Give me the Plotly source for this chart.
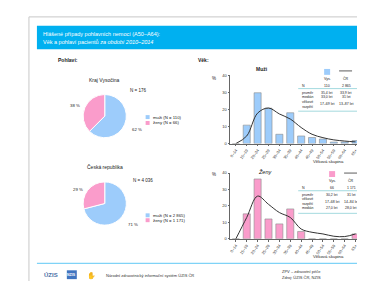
import plotly.graph_objects as go

W, H = 365, 281

# ---------------- data ----------------
age_groups = ["0–14", "15–19", "20–24", "25–29", "30–34", "35–39",
              "40–44", "45–49", "50–54", "55–59", "60–64", "65+"]
men_vys = [0, 10.9, 30.0, 20.9, 5.5, 18.2, 4.5, 3.6, 2.7, 0.9, 0.9, 1.8]
men_cr = [0, 4.5, 18.0, 21.0, 17.5, 14.5, 9.5, 5.5, 3.5, 2.2, 1.5, 1.0]
women_vys = [0, 15.2, 36.4, 12.1, 9.1, 18.2, 4.5, 0, 0, 0, 0, 3.0]
women_cr = [0, 13.0, 26.0, 21.0, 16.0, 13.0, 6.0, 4.0, 3.0, 1.6, 1.4, 3.0]

pie_labels = ["muži", "ženy"]
pie_vys = [110, 66]
pie_cr = [2865, 1171]

men_table = [("N", "110", "2 865"), ("průměr", "35,4 let", "33,9 let"),
             ("medián", "33,0 let", "31 let"), ("věkové<br>rozpětí", "17–69 let", "13–87 let")]
women_table = [("N", "66", "1 171"), ("průměr", "30,2 let", "31 let"),
               ("věkové<br>rozpětí", "17–68 let", "14–84 let"), ("medián", "27,0 let", "28,0 let")]

BLUE = "#9DCCFB"
PINK = "#FA9CCB"
HEAD = "#00B0F0"
LINE = "#333333"


def px(x):
    return x / W


def py(y):
    return 1 - y / H


fig = go.Figure()

# pies
for vals, cy in [(pie_vys, 107), (pie_cr, 196)]:
    fig.add_trace(go.Pie(
        labels=pie_labels, values=vals, sort=False, direction="clockwise",
        rotation=0, marker=dict(colors=[BLUE, PINK], line=dict(color="white", width=1)),
        textinfo="none", hoverinfo="label+value+percent", showlegend=False,
        domain=dict(x=[px(74), px(118)], y=[py(cy + 22), py(cy - 22)])))

# bars + lines
for i, (vys, cr, col) in enumerate([(men_vys, men_cr, BLUE), (women_vys, women_cr, PINK)]):
    xa = "x" if i == 0 else "x2"
    ya = "y" if i == 0 else "y2"
    fig.add_trace(go.Bar(x=age_groups, y=vys, marker=dict(color=col, line=dict(color="#8c8c8c", width=0.6)),
                         xaxis=xa, yaxis=ya, showlegend=False))
    fig.add_trace(go.Scatter(x=age_groups, y=cr, mode="lines", line=dict(color=LINE, width=1, shape="spline"),
                             xaxis=xa, yaxis=ya, showlegend=False))

axis_common = dict(showline=True, linecolor="#666", linewidth=0.6, showgrid=False, zeroline=False,
                   ticks="outside", ticklen=2, tickcolor="#666", tickfont=dict(size=4, color="#333"))
fig.update_layout(
    xaxis=dict(domain=[px(222), px(353)], anchor="y", tickangle=-55, **axis_common),
    yaxis=dict(domain=[py(135), py(66)], anchor="x", range=[0, 40], dtick=10, **axis_common),
    xaxis2=dict(domain=[px(222), px(353)], anchor="y2", tickangle=-55, **axis_common),
    yaxis2=dict(domain=[py(232), py(165)], anchor="x2", range=[0, 40], dtick=10, **axis_common),
    bargap=0.35,
)

shapes = []
ann = []


def text(x, y, t, size=4.5, color="#222", xanchor="left", bold=False, italic=False):
    if bold:
        t = "<b>" + t + "</b>"
    if italic:
        t = "<i>" + t + "</i>"
    ann.append(dict(x=px(x), y=py(y), xref="paper", yref="paper", text=t, showarrow=False,
                    xanchor=xanchor, yanchor="middle", font=dict(size=size, color=color,
                                                                 family="Liberation Sans, Arial")))


def rect(x0, y0, x1, y1, fill, line=None, lw=0):
    shapes.append(dict(type="rect", xref="paper", yref="paper", x0=px(x0), x1=px(x1),
                       y0=py(y1), y1=py(y0), fillcolor=fill,
                       line=dict(color=line or fill, width=lw)))


def hline(x0, x1, y, color, w=0.8):
    shapes.append(dict(type="line", xref="paper", yref="paper", x0=px(x0), x1=px(x1),
                       y0=py(y), y1=py(y), line=dict(color=color, width=w)))


# frame
shapes.append(dict(type="rect", xref="paper", yref="paper", x0=px(20), x1=px(380), y0=py(295), y1=py(6),
                   fillcolor="rgba(0,0,0,0)", line=dict(color="#c8c8c8", width=1)))
# header band
rect(28, 15, 366, 39, HEAD)
text(32, 23, "Hlášené případy pohlavních nemocí (A50–A64):", size=5.5, color="white")
text(32, 32, "Věk a pohlaví pacientů <i>za období 2010–2014</i>", size=5.5, color="white")

text(47, 50, "Pohlaví:", size=5, bold=True)
text(188, 50, "Věk:", size=5, bold=True)

# pie annotations
for cy, title, ntxt, nx, ny, pcts, legs, lpos in [
        (107, "Kraj Vysočina", "N = 176", 129, 81, [("38 %", 66, 96), ("62 %", 128, 121)],
         ["muži (N = 110)", "ženy (N = 66)"], (108, 114)),
        (196, "Česká republika", "N = 4 036", 134, 173, [("29 %", 69, 182), ("71 %", 124, 217)],
         ["muži (N = 2 865)", "ženy (N = 1 171)"], (208, 213))]:
    text(96, cy - 37, title, size=5, xanchor="center")
    text(nx, ny, ntxt, size=4.5, xanchor="center")
    for t, x, y in pcts:
        text(x, y, t, size=4.3, xanchor="center")
    for (lab, ly, c) in zip(legs, lpos, [BLUE, PINK]):
        rect(137, ly - 2, 141, ly + 2, c)
        text(142.5, ly, lab, size=4.3)

# bar chart titles / labels
text(254, 59, "Muži", size=5, xanchor="center", bold=True)
text(257, 163, "Ženy", size=5.5, xanchor="center", italic=True)
text(206, 69, "%", size=4.5, xanchor="center")
text(206, 166, "%", size=4.5, xanchor="center")
text(320, 153, "Věková skupina", size=4.3, xanchor="center")
text(320, 250, "Věková skupina", size=4.3, xanchor="center")

# tables
TEAL = "#8ccfd6"
for rows, top, col, sq in [(men_table, 62, BLUE, 319), (women_table, 166, PINK, 324)]:
    rect(sq - 3, top - 3, sq + 3, top + 3, col)
    shapes.append(dict(type="line", xref="paper", yref="paper", x0=px(sq + 12), x1=px(sq + 25),
                       y0=py(top - 1), y1=py(top - 1), line=dict(color=LINE, width=0.8)))
    c1, c2 = sq, sq + 19
    text(c1, top + 7, "Vys.", size=3.6, xanchor="center")
    text(c2, top + 7, "ČR", size=3.6, xanchor="center")
    y = top + 14
    text(292, y, rows[0][0], size=3.6)
    text(c1, y, rows[0][1], size=3.5, xanchor="center")
    text(c2, y, rows[0][2], size=3.5, xanchor="center")
    hline(290, 353, y + 3, TEAL)
    y += 7
    for lab, a, b in rows[1:]:
        extra = 2 if "<br>" in lab else 0
        y += extra
        text(292, y, lab, size=3.5)
        text(c1, y, a, size=3.5, xanchor="center")
        text(c2, y, b, size=3.5, xanchor="center")
        y += 5 + extra
    hline(290, 353, y, TEAL)

# footer
hline(28, 366, 257, "#7fd3f7", w=1.2)
text(33, 269, "<b>ÚZIS</b>", size=6, color="#4a6fa5")
rect(58, 264, 68, 273, "#3f74c0")
text(63, 269, "<b>NZIS</b>", size=3.5, color="white", xanchor="center")
text(83, 269, "<b>✋</b>", size=7, color="#111", xanchor="center")
text(95, 269, "Národní zdravotnický informační systém ÚZIS ČR", size=4, color="#333")
text(272, 265, "ZPV – zdravotní péče", size=4, color="#333")
text(272, 271, "Zdroj: ÚZIS ČR, NZIS", size=4, color="#333")

fig.update_layout(width=W, height=H, margin=dict(l=0, r=0, t=0, b=0), paper_bgcolor="white",
                  plot_bgcolor="white", shapes=shapes, annotations=ann, showlegend=False,
                  font=dict(family="Liberation Sans, Arial", size=5))

fig.write_html("out.html", config=dict(displayModeBar=False))
